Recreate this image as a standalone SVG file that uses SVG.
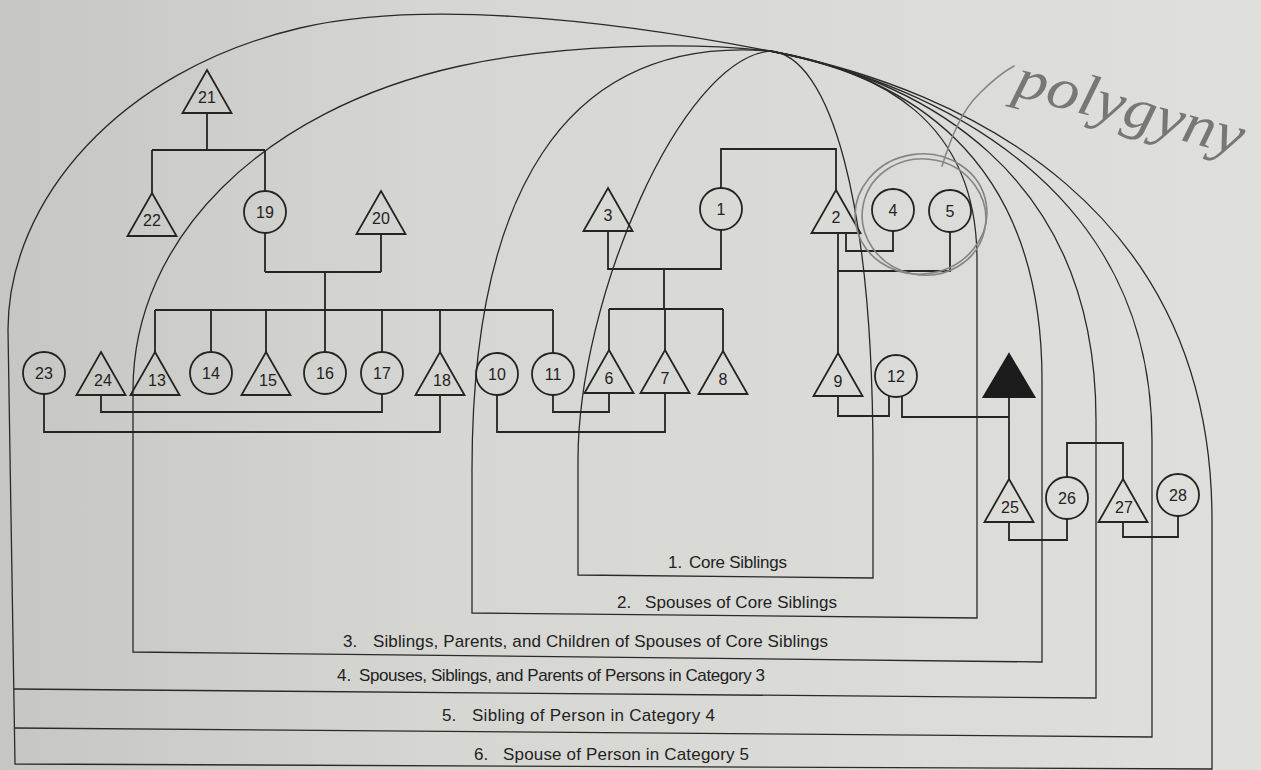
<svg xmlns="http://www.w3.org/2000/svg" width="1261" height="770" viewBox="0 0 1261 770">
<defs>
<linearGradient id="page" x1="0" y1="0" x2="1" y2="0">
<stop offset="0" stop-color="#c6c6c3"/>
<stop offset="0.35" stop-color="#d6d6d3"/>
<stop offset="1" stop-color="#dfdfdc"/>
</linearGradient>
<style>
.nd{fill:none;stroke:#242424;stroke-width:1.8}
.blk{fill:#1c1c1c;stroke:#1c1c1c;stroke-width:1.8}
.num{font-family:"Liberation Sans",Arial,sans-serif;font-size:16px;fill:#222;text-anchor:middle}
.cn{fill:none;stroke:#242424;stroke-width:1.8}
.arc{fill:none;stroke:#2a2a2a;stroke-width:1.3}
.lbl{font-family:"Liberation Sans",Arial,sans-serif;font-size:17px;fill:#222}
.pen{fill:none;stroke:#858585;stroke-width:1.6;stroke-linecap:round}
.hand{font-family:"Liberation Serif",serif;font-style:italic;font-size:58px;fill:#777}
</style>
</defs>
<rect width="1261" height="770" fill="url(#page)"/>

<g id="categories">
<g id="cat1">
<path class="arc" d="M578,575 L578,460 C578,300 680,60 770,51 C830,55 873,200 873,460 L873,578 Z"/>
<text class="lbl" y="568"><tspan x="668">1.</tspan><tspan x="689" textLength="98" lengthAdjust="spacing">Core Siblings</tspan></text>
</g>
<g id="cat2">
<path class="arc" d="M472,613 L472,470 C472,200 560,35 770,51 C880,70 977,120 977,260 L977,618 Z"/>
<text class="lbl" y="608"><tspan x="617">2.</tspan><tspan x="645" textLength="192" lengthAdjust="spacing">Spouses of Core Siblings</tspan></text>
</g>
<g id="cat3">
<path class="arc" d="M133,652 L133,390 C133,240 260,110 460,66 C560,44 690,42 770,51 C900,75 1042,150 1042,380 L1042,662 Z"/>
<text class="lbl" y="647"><tspan x="343">3.</tspan><tspan x="373" textLength="455" lengthAdjust="spacing">Siblings, Parents, and Children of Spouses of Core Siblings</tspan></text>
</g>
<g id="cat4">
<path class="arc" d="M14,689 L1096,698 L1096,420 C1096,170 920,80 770,51"/>
<text class="lbl" y="681"><tspan x="337">4.</tspan><tspan x="359" textLength="406" lengthAdjust="spacing">Spouses, Siblings, and Parents of Persons in Category 3</tspan></text>
</g>
<g id="cat5">
<path class="arc" d="M14,728 L1152,737 L1152,440 C1152,190 940,85 770,51"/>
<text class="lbl" y="721"><tspan x="442">5.</tspan><tspan x="472" textLength="243" lengthAdjust="spacing">Sibling of Person in Category 4</tspan></text>
</g>
<g id="cat6">
<path class="arc" d="M15,764 L8,330 C8,200 120,70 300,28 C420,0 600,18 770,51 C970,90 1212,210 1212,520 L1212,769 Z"/>
<text class="lbl" y="760"><tspan x="474">6.</tspan><tspan x="503" textLength="246" lengthAdjust="spacing">Spouse of Person in Category 5</tspan></text>
</g>
</g>

<g id="connectors">
<path class="cn" d="M207,113 V150 M152,150 H265 M152,150 V193 M265,150 V191"/>
<path class="cn" d="M265,233 V272 M381,234 V272 M265,272 H381 M325,272 V310"/>
<path class="cn" d="M155,310 H553 M155,310 V352 M211,310 V352 M266,310 V352 M325,310 V352 M382,310 V352 M440,310 V352 M553,310 V353"/>
<path class="cn" d="M101,395 V412 H382 V394"/>
<path class="cn" d="M44,394 V432 H440 V395"/>
<path class="cn" d="M608,231 V269 H721 V230 M664,269 V309 M609,309 H723 M609,309 V350 M665,309 V350 M723,309 V351"/>
<path class="cn" d="M553,395 V412 H609 V393"/>
<path class="cn" d="M497,395 V432 H665 V393"/>
<path class="cn" d="M721,188 V149 H836 V190"/>
<path class="cn" d="M846,233 V251 H893 V231"/>
<path class="cn" d="M838,233 V353 M838,271 H950 V232"/>
<path class="cn" d="M838,396 V416 H889 V396"/>
<path class="cn" d="M902,396 V417 H1009 M1009,397 V479"/>
<path class="cn" d="M1067,477 V443 H1123 V479"/>
<path class="cn" d="M1009,522 V540 H1067 V519"/>
<path class="cn" d="M1123,522 V537 H1178 V516"/>
</g>

<g id="n21"><polygon class="nd" points="207,70 231.5,113 182.5,113"/><text class="num" x="207" y="103">21</text></g>
<g id="n22"><polygon class="nd" points="152,193 176.5,236 127.5,236"/><text class="num" x="152" y="226">22</text></g>
<g id="n19"><circle class="nd" cx="265" cy="212" r="21"/><text class="num" x="265" y="218">19</text></g>
<g id="n20"><polygon class="nd" points="381,191 405.5,234 356.5,234"/><text class="num" x="381" y="224">20</text></g>
<g id="n3"><polygon class="nd" points="608,188 632.5,231 583.5,231"/><text class="num" x="608" y="221">3</text></g>
<g id="n1"><circle class="nd" cx="721" cy="209" r="21"/><text class="num" x="721" y="215">1</text></g>
<g id="n2"><polygon class="nd" points="836,190 860.5,233 811.5,233"/><text class="num" x="836" y="223">2</text></g>
<g id="n4"><circle class="nd" cx="893" cy="210" r="21"/><text class="num" x="893" y="216">4</text></g>
<g id="n5"><circle class="nd" cx="950" cy="211" r="21"/><text class="num" x="950" y="217">5</text></g>

<g id="n23"><circle class="nd" cx="44" cy="373" r="21"/><text class="num" x="44" y="379">23</text></g>
<g id="n24"><polygon class="nd" points="101,352 125.5,395 76.5,395"/><text class="num" x="103" y="386">24</text></g>
<g id="n13"><polygon class="nd" points="155,352 179.5,395 130.5,395"/><text class="num" x="157" y="386">13</text></g>
<g id="n14"><circle class="nd" cx="211" cy="373" r="21"/><text class="num" x="211" y="379">14</text></g>
<g id="n15"><polygon class="nd" points="266,352 290.5,395 241.5,395"/><text class="num" x="268" y="386">15</text></g>
<g id="n16"><circle class="nd" cx="325" cy="373" r="21"/><text class="num" x="325" y="379">16</text></g>
<g id="n17"><circle class="nd" cx="382" cy="373" r="21"/><text class="num" x="382" y="379">17</text></g>
<g id="n18"><polygon class="nd" points="440,352 464.5,395 415.5,395"/><text class="num" x="442" y="386">18</text></g>
<g id="n10"><circle class="nd" cx="497" cy="374" r="21"/><text class="num" x="497" y="380">10</text></g>
<g id="n11"><circle class="nd" cx="553" cy="374" r="21"/><text class="num" x="553" y="380">11</text></g>
<g id="n6"><polygon class="nd" points="609,350 633.5,393 584.5,393"/><text class="num" x="609" y="384">6</text></g>
<g id="n7"><polygon class="nd" points="665,350 689.5,393 640.5,393"/><text class="num" x="665" y="384">7</text></g>
<g id="n8"><polygon class="nd" points="723,351 747.5,394 698.5,394"/><text class="num" x="723" y="385">8</text></g>
<g id="n9"><polygon class="nd" points="838,353 862.5,396 813.5,396"/><text class="num" x="838" y="387">9</text></g>
<g id="n12"><circle class="nd" cx="896" cy="376" r="21"/><text class="num" x="896" y="382">12</text></g>
<g id="nEgo"><polygon class="blk" points="1009,354 1034.5,397 983.5,397"/></g>

<g id="n25"><polygon class="nd" points="1009,479 1033.5,522 984.5,522"/><text class="num" x="1010" y="513">25</text></g>
<g id="n26"><circle class="nd" cx="1067" cy="498" r="21"/><text class="num" x="1067" y="504">26</text></g>
<g id="n27"><polygon class="nd" points="1123,479 1147.5,522 1098.5,522"/><text class="num" x="1124" y="513">27</text></g>
<g id="n28"><circle class="nd" cx="1178" cy="495" r="21"/><text class="num" x="1178" y="501">28</text></g>

<g id="annotation">
<ellipse class="pen" cx="921" cy="214" rx="66" ry="60" transform="rotate(-8 921 214)"/>
<ellipse class="pen" cx="924" cy="217" rx="62" ry="58" transform="rotate(12 924 217)"/>
<path class="pen" d="M942,166 C952,135 962,110 980,93 C993,80 1003,72 1014,66"/>
<text class="hand" x="1012" y="95" transform="rotate(15 1012 95)" textLength="235" lengthAdjust="spacingAndGlyphs">polygyny</text>
</g>
</svg>
